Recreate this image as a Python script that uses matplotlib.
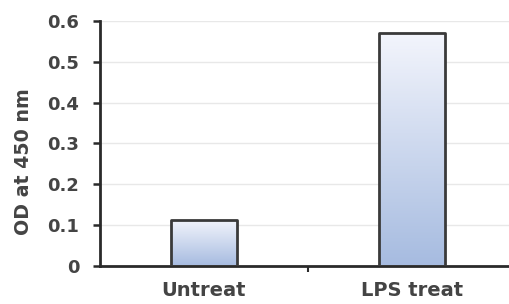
import numpy as np
import matplotlib
matplotlib.use("Agg")
import matplotlib.pyplot as plt
from matplotlib.colors import LinearSegmentedColormap

categories = ["Untreat", "LPS treat"]
values = [0.113, 0.57]
yticks = [0, 0.1, 0.2, 0.3, 0.4, 0.5, 0.6]
ytick_labels = ["0", "0.1", "0.2", "0.3", "0.4", "0.5", "0.6"]

plt.rcParams['font.family'] = ['DejaVu Sans']

fig = plt.figure(figsize=(5.09, 3.04), dpi=100)
ax = fig.add_axes([0.1965, 0.125, 0.817, 0.806])

x = np.arange(len(categories))
bars = ax.bar(x, values, width=0.32, facecolor='none', edgecolor='#3a3a3a',
              linewidth=2.0, joinstyle='round', zorder=3)

cmap = LinearSegmentedColormap.from_list("g", ["#a6bbe0", "#f3f5fc"])
grad = np.linspace(0, 1, 256).reshape(-1, 1)
for b in bars:
    x0, y0 = b.get_x(), b.get_y()
    w, h = b.get_width(), b.get_height()
    im = ax.imshow(grad, extent=[x0, x0 + w, y0, y0 + h], origin='lower',
                   cmap=cmap, aspect='auto', zorder=2)
    im.set_clip_path(b)

ax.set_xlim(-0.5, 1.5)
ax.set_ylim(0, 0.6)
ax.set_yticks(yticks)
ax.set_yticklabels(ytick_labels)
ax.set_xticks([0.5])
ax.set_xticklabels([""])
for i, c in enumerate(categories):
    ax.text(i, -0.036, c, ha='center', va='top', fontsize=14,
            fontweight='bold', color='#444444')

for yv in yticks[1:]:
    ax.axhline(yv, color='#e8e8e8', linewidth=1.0, zorder=1)

for s in ['top', 'right']:
    ax.spines[s].set_visible(False)
for s in ['left', 'bottom']:
    ax.spines[s].set_color('#2a2a2a')
    ax.spines[s].set_linewidth(2.0)
ax.tick_params(axis='y', direction='out', length=5, width=1.8, color='#2a2a2a',
               labelsize=13, labelcolor='#444444', pad=10)
ax.tick_params(axis='x', direction='out', length=4, width=1.5, color='#2a2a2a')
for lab in ax.get_yticklabels():
    lab.set_fontweight('bold')
ax.set_ylabel("OD at 450 nm", fontsize=13.7, fontweight='bold', color='#444444')
ax.yaxis.set_label_coords(-0.161, 0.424)

fig.savefig("out.png", dpi=100)
